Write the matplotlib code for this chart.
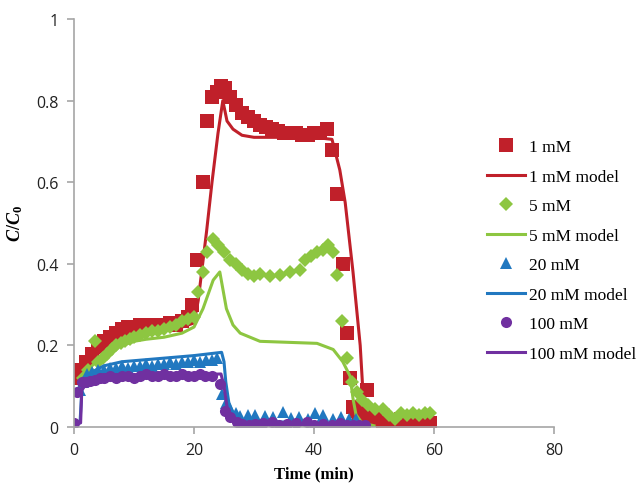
import matplotlib
matplotlib.use("Agg")
import matplotlib.pyplot as plt

# ---- data ----
t_1mM = [0, 1, 2, 3, 4, 5, 6, 7, 8, 9, 10, 11, 12, 13, 14, 15, 16, 17, 18, 19,
         19.6, 20.5, 21.5, 22.2, 23, 23.8, 24.5, 25.2, 26, 27, 28, 29, 30, 31, 32,
         33, 34, 35, 36, 37, 38, 39, 40, 41, 42.2, 43, 43.8, 44.8, 45.5, 46,
         46.5, 47, 47.5, 48.2, 48.8, 49.5, 50.5, 51.5, 52.5, 53.5, 54.5, 55.5,
         56.5, 57.5, 58.5, 59.3]
c_1mM = [0.12, 0.14, 0.16, 0.18, 0.2, 0.21, 0.22, 0.23, 0.24, 0.245, 0.245, 0.25,
         0.25, 0.25, 0.25, 0.25, 0.255, 0.25, 0.26, 0.27,
         0.3, 0.41, 0.6, 0.75, 0.81, 0.82, 0.835, 0.83, 0.81, 0.79, 0.77, 0.76,
         0.75, 0.74, 0.735, 0.73, 0.725, 0.72, 0.72, 0.72, 0.715, 0.715, 0.72,
         0.72, 0.73, 0.68, 0.57, 0.40, 0.23, 0.12, 0.05, 0.04, 0.03, 0.05, 0.09,
         0.03, 0.02, 0.01, 0.015, 0.01, 0.02, 0.01, 0.01, 0.015, 0.01, 0.01]

tm_1mM = [0, 2, 4, 6, 8, 10, 14, 18, 20, 20.7, 22.1, 23, 24, 24.8, 25.5, 26.5,
          28, 30, 35, 40, 43, 44.3, 45.2, 46.5, 47.7, 48.3, 49, 50, 60]
cm_1mM = [0.12, 0.15, 0.18, 0.2, 0.215, 0.225, 0.235, 0.245, 0.255, 0.31, 0.48,
          0.6, 0.72, 0.8, 0.75, 0.73, 0.715, 0.71, 0.71, 0.71, 0.705, 0.63, 0.55,
          0.38, 0.2, 0.05, 0.01, 0.002, 0.0]

t_5mM = [1.5, 2.3, 3.5, 4, 4.8, 5.5, 6.3, 7, 7.8, 8.5, 9.3, 10, 11, 12, 13, 14,
         15, 16, 17, 18, 19, 20, 20.7, 21.5, 22.1, 23.1, 24, 25, 26, 27, 28, 29,
         30, 31, 32.7, 34.3, 36, 37.7, 38.5, 39.5, 40.5, 41.5, 42.3, 43.2, 43.8,
         44.7, 45.5, 46.3, 47.1, 48, 49, 50.2, 51.5, 52.5, 53.5, 54.5, 55.5, 56.5,
         57.5, 58.5, 59.3]
c_5mM = [0.12, 0.14, 0.21, 0.16, 0.17, 0.18, 0.19, 0.2, 0.205, 0.21, 0.215, 0.22,
         0.225, 0.23, 0.235, 0.235, 0.24, 0.245, 0.25, 0.26, 0.265, 0.27, 0.33,
         0.38, 0.43, 0.46, 0.445, 0.43, 0.41, 0.4, 0.385, 0.375, 0.37, 0.375,
         0.37, 0.373, 0.38, 0.385, 0.41, 0.42, 0.43, 0.435, 0.445, 0.43, 0.373,
         0.26, 0.17, 0.11, 0.085, 0.065, 0.055, 0.045, 0.045, 0.03, 0.02, 0.035,
         0.03, 0.035, 0.03, 0.035, 0.035]

tm_5mM = [1, 2, 3, 4, 6, 8, 10, 12, 15, 18, 20, 21.5, 23.2, 24.3, 25.4, 26.5,
          27.7, 31, 40.5, 43.2, 44.8, 46, 46.5, 47, 48, 50]
cm_5mM = [0.1, 0.13, 0.15, 0.165, 0.185, 0.2, 0.21, 0.215, 0.22, 0.23, 0.245,
          0.29, 0.36, 0.38, 0.29, 0.25, 0.23, 0.21, 0.205, 0.19, 0.16, 0.125,
          0.07, 0.03, 0.01, 0.003]

t_20mM = [1, 1.5, 2.2, 3, 4, 5, 6, 7, 8, 9, 10, 11, 12, 13, 14, 15, 16, 17, 18,
          19, 20, 21, 22, 23, 23.8, 24.7, 25.3, 26, 27, 27.7, 29, 30.2, 31.8,
          33.2, 34.8, 36.2, 37.5, 39, 40.2, 41.5, 43.2, 44.5, 45.8, 47]
c_20mM = [0.09, 0.11, 0.13, 0.135, 0.14, 0.14, 0.145, 0.145, 0.15, 0.145, 0.15,
          0.15, 0.155, 0.15, 0.155, 0.155, 0.16, 0.155, 0.16, 0.16, 0.165, 0.16,
          0.165, 0.165, 0.17, 0.08, 0.06, 0.045, 0.035, 0.027, 0.03, 0.03, 0.027,
          0.025, 0.037, 0.022, 0.025, 0.02, 0.035, 0.03, 0.02, 0.025, 0.02, 0.02]

tm_20mM = [0, 1, 1.3, 2, 3, 5, 8, 12, 16, 20, 24.6, 25, 25.3, 25.8, 26.5, 27.5,
           29, 35, 45, 48, 49]
cm_20mM = [0.01, 0.01, 0.09, 0.12, 0.135, 0.15, 0.16, 0.165, 0.17, 0.175, 0.183,
           0.16, 0.11, 0.06, 0.035, 0.02, 0.015, 0.012, 0.01, 0.008, 0.002]

t_100mM = [0, 0.5, 1.3, 2, 2.7, 3.5, 4.3, 5, 6, 7, 8, 9, 10, 11, 12, 13, 14, 15,
           16, 17, 18, 19, 20, 21, 21.8, 23, 24.3, 25.2, 26, 27.1, 28, 29.2, 30.2,
           31.5, 33, 34.2, 35.5, 37, 38.8, 40, 41.5, 43, 44.3, 45.5, 46.5, 47.5,
           48.5]
c_100mM = [0.01, 0.085, 0.11, 0.11, 0.113, 0.115, 0.12, 0.12, 0.125, 0.12, 0.125,
           0.125, 0.12, 0.125, 0.13, 0.125, 0.125, 0.13, 0.125, 0.125, 0.13, 0.125,
           0.125, 0.13, 0.125, 0.125, 0.105, 0.04, 0.025, 0.012, 0.007, 0.005,
           0.008, 0.01, 0.012, 0.005, 0.008, 0.01, 0.012, 0.005, 0.008, 0.005,
           0.01, 0.005, 0.006, 0.005, 0.004]

tm_100mM = [0, 1.1, 1.3, 2, 4, 8, 15, 24.5, 25, 25.5, 26, 27, 30, 49]
cm_100mM = [0.01, 0.01, 0.09, 0.105, 0.115, 0.12, 0.125, 0.13, 0.1, 0.05, 0.025,
            0.01, 0.005, 0.005]

red = "#C0202A"
green = "#8DC641"
blue = "#2178C0"
purple = "#7030A0"
grey = "#A6A6A6"

plt.rcParams["mathtext.fontset"] = "custom"
plt.rcParams["mathtext.it"] = "Liberation Serif:italic:bold"
plt.rcParams["mathtext.rm"] = "Liberation Serif:bold"

fig = plt.figure(figsize=(6.39, 4.85), dpi=100)
ax = fig.add_axes([74 / 639, 1 - 428 / 485, 480 / 639, 408 / 485])

ax.plot(t_1mM, c_1mM, "s", color=red, ms=9.5, mew=0, label="1 mM")
ax.plot(tm_1mM, cm_1mM, "-", color=red, lw=2.2, label="1 mM model")
ax.plot(t_5mM, c_5mM, "D", color=green, ms=7.5, mew=0, label="5 mM")
ax.plot(tm_5mM, cm_5mM, "-", color=green, lw=2.2, label="5 mM model")
ax.plot(t_20mM, c_20mM, "^", color=blue, ms=9, mew=0, label="20 mM")
ax.plot(tm_20mM, cm_20mM, "-", color=blue, lw=2.2, label="20 mM model")
ax.plot(t_100mM, c_100mM, "o", color=purple, ms=8, mew=0, label="100 mM")
ax.plot(tm_100mM, cm_100mM, "-", color=purple, lw=2.2, label="100 mM model")

ax.set_xlim(0, 80)
ax.set_ylim(0, 1)
ax.set_xticks([0, 20, 40, 60, 80])
ax.set_yticks([0, 0.2, 0.4, 0.6, 0.8, 1])
ax.set_yticklabels(["0", "0.2", "0.4", "0.6", "0.8", "1"])

for side in ["top", "right"]:
    ax.spines[side].set_visible(False)
for side in ["left", "bottom"]:
    ax.spines[side].set_color(grey)
    ax.spines[side].set_linewidth(1.2)
ax.tick_params(colors=grey, length=5, width=1.2, labelcolor="#222222",
               labelsize=11.5, pad=6)
for lbl in ax.get_xticklabels() + ax.get_yticklabels():
    lbl.set_family("Open Sans")

ax.set_xlabel("Time (min)", family="Liberation Serif", weight="bold",
              fontsize=12, labelpad=5)
ax.set_ylabel(r"$C/C_0$", fontsize=13, labelpad=8)

leg = fig.legend(loc="upper left", bbox_to_anchor=(487 / 639, 1 - 140 / 485),
                 frameon=False, prop={"family": "Liberation Serif", "size": 12.5},
                 handlelength=2.2, handletextpad=0.2, labelspacing=0.77,
                 borderpad=0, borderaxespad=0, numpoints=1)

fig.savefig("out.png", dpi=100)
